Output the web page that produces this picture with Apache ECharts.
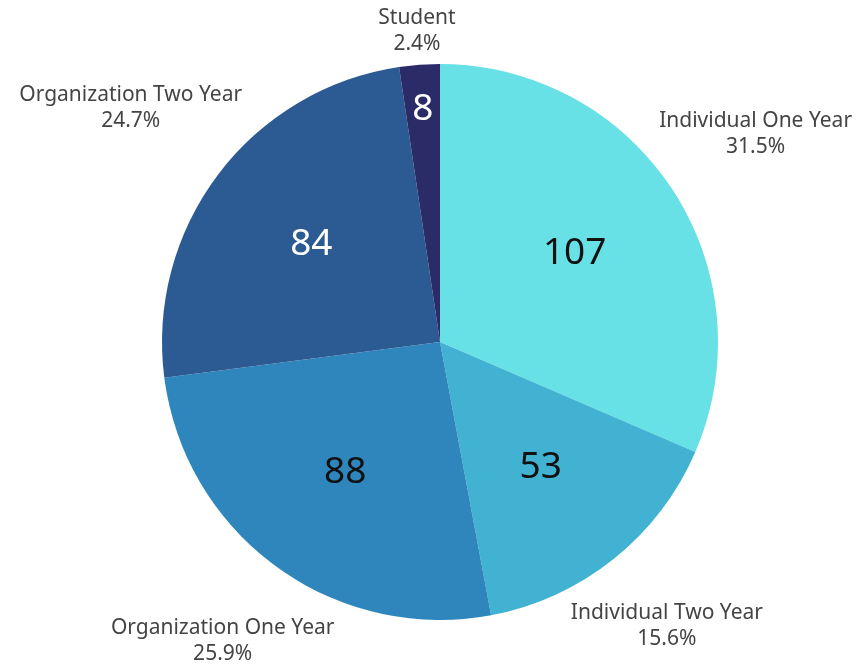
<!DOCTYPE html>
<html>
<head>
<meta charset="utf-8">
<title>Membership pie</title>
<script src="https://cdn.jsdelivr.net/npm/echarts@6/dist/echarts.min.js"></script>
<style>
    html, body { margin: 0; padding: 0; background: #fff; }
    #container { width: 864px; height: 665px; }
</style>
</head>
<body>
<div id="container"></div>
<script>
    // data
    var categories = ['Individual One Year', 'Individual Two Year', 'Organization One Year', 'Organization Two Year', 'Student'];
    var counts = [107, 53, 88, 84, 8];
    var colors = ['#67e0e6', '#41b2d1', '#2e86bc', '#2c5b93', '#2b2c67'];
    var valueColors = ['#111', '#111', '#111', '#fff', '#fff'];

    // layout
    var CX = 440, CY = 342, R = 278, GAP = 5;

    var total = counts.reduce(function (a, b) { return a + b; }, 0);
    // mid angle of every slice, clockwise from 12 o'clock
    var midAngles = [];
    var acc = 0;
    counts.forEach(function (v) {
        midAngles.push((acc + v / 2) / total * 2 * Math.PI);
        acc += v;
    });

    var myChart = echarts.init(document.getElementById('container'));

    var option = {
        animation: false,
        series: [{
            // slices + outer name/percent labels
            type: 'pie',
            center: [CX, CY],
            radius: R,
            startAngle: 90,
            clockwise: true,
            avoidLabelOverlap: false,
            silent: true,
            data: categories.map(function (name, i) {
                return { name: name, value: counts[i], itemStyle: { color: colors[i] } };
            }),
            label: {
                show: true,
                position: 'outside',
                fontFamily: 'Noto Sans',
                fontSize: 21,
                lineHeight: 26,
                color: '#444',
                align: 'center',
                formatter: function (p) {
                    return p.name + '\n' + (p.value / total * 100).toFixed(1) + '%';
                }
            },
            labelLine: { show: false },
            labelLayout: function (p) {
                var a = midAngles[p.dataIndex];
                var ux = Math.sin(a), uy = -Math.cos(a);
                var w = p.labelRect.width, h = p.labelRect.height;
                var d = R + GAP + Math.abs(ux) * w / 2 + Math.abs(uy) * h / 2;
                return { x: CX + d * ux, y: CY + d * uy, align: 'center', verticalAlign: 'middle' };
            }
        }, {
            // value labels inside the slices
            type: 'pie',
            center: [CX, CY],
            radius: R,
            startAngle: 90,
            clockwise: true,
            silent: true,
            data: categories.map(function (name, i) {
                return {
                    name: name,
                    value: counts[i],
                    itemStyle: { color: 'transparent' },
                    label: { color: valueColors[i] }
                };
            }),
            label: {
                show: true,
                position: 'inside',
                fontFamily: 'Noto Sans',
                fontSize: 37,
                formatter: '{c}'
            },
            labelLine: { show: false },
            labelLayout: function (p) {
                var a = midAngles[p.dataIndex];
                var share = counts[p.dataIndex] / total;
                var d = share < 0.05 ? R * 0.84 : R * 0.58;
                return {
                    x: CX + d * Math.sin(a),
                    y: CY - d * Math.cos(a),
                    align: 'center',
                    verticalAlign: 'middle'
                };
            }
        }]
    };

    myChart.setOption(option);
</script>
</body>
</html>
